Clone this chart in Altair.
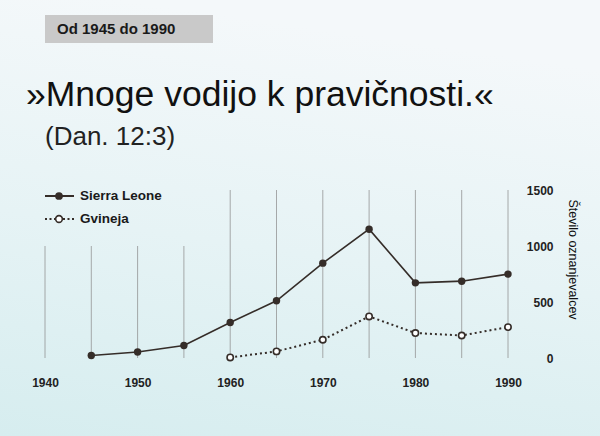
import altair as alt
import pandas as pd

# --- data -----------------------------------------------------------------
years_sl = [1945, 1950, 1955, 1960, 1965, 1970, 1975, 1980, 1985, 1990]
sierra_leone = [23, 53, 112, 317, 511, 847, 1150, 671, 686, 749]

years_gv = [1960, 1965, 1970, 1975, 1980, 1985, 1990]
gvineja = [5, 59, 163, 371, 223, 201, 276]

grid_years = [1940, 1945, 1950, 1955, 1960, 1965, 1970, 1975, 1980, 1985, 1990]
grid_tops = [1000, 1000, 1000, 1000, 1500, 1500, 1500, 1500, 1500, 1500, 1500]

x_ticks = [1940, 1950, 1960, 1970, 1980, 1990]
y_ticks = [0, 500, 1000, 1500]

header = "Od 1945 do 1990"
title = "»Mnoge vodijo k pravičnosti.«"
subtitle = "(Dan. 12:3)"
series_names = ["Sierra Leone", "Gvineja"]
y_title = "Število oznanjevalcev"

# --- styling ----------------------------------------------------------------
INK = "#352d29"
FONT = "Liberation Sans"

sl_df = pd.DataFrame({"leto": years_sl, "n": sierra_leone})
gv_df = pd.DataFrame({"leto": years_gv, "n": gvineja})
grid_df = pd.DataFrame({"leto": grid_years, "top": grid_tops, "bottom": [0] * len(grid_years)})
one = pd.DataFrame({"k": [0]})

x_scale = alt.Scale(domain=[1940, 1990], nice=False, zero=False)
y_scale = alt.Scale(domain=[0, 1500], nice=False)

x_axis = alt.Axis(values=x_ticks, format="d", grid=False, domain=False, ticks=False,
                  tickSize=0, labelPadding=19, labelFlush=False, labelFont=FONT,
                  labelFontSize=12, labelFontWeight="bold", labelColor="#222222",
                  title=None, zindex=2)
y_axis = alt.Axis(orient="right", values=y_ticks, format="d", grid=False, domain=False,
                  ticks=False, tickSize=0, labelAlign="right", labelBaseline="middle",
                  labelFlush=False, labelPadding=45, labelFont=FONT, labelFontSize=12,
                  labelFontWeight="bold", labelColor="#222222", title=y_title,
                  titleFont=FONT, titleFontSize=12.5, titleFontWeight="normal",
                  titleColor="#111111", titleAngle=90, titleAlign="center",
                  titleBaseline="middle", titleX=64, titleY=69, zindex=2)


def xy(yfield):
    return dict(
        x=alt.X("leto:Q", scale=x_scale, axis=x_axis),
        y=alt.Y(f"{yfield}:Q", scale=y_scale, axis=y_axis),
    )


# slide background with a soft vertical gradient
background = alt.Chart(one).mark_rect(
    color=alt.Gradient(
        gradient="linear",
        stops=[alt.GradientStop(color="#f4f8fa", offset=0),
               alt.GradientStop(color="#e6f3f5", offset=0.5),
               alt.GradientStop(color="#d6edef", offset=1)],
        x1=0.2, x2=0, y1=0, y2=1,
    )
).encode(x=alt.value(-45), x2=alt.value(555), y=alt.value(-190), y2=alt.value(246))

# header tag
tag_box = alt.Chart(one).mark_rect(color="#c9c9c9").encode(
    x=alt.value(0), x2=alt.value(168), y=alt.value(-175), y2=alt.value(-147))
tag_text = alt.Chart(one).mark_text(
    text=header, font=FONT, fontSize=15, fontWeight="bold", color="#1a1a1a",
    align="left", baseline="middle"
).encode(x=alt.value(12), y=alt.value(-161))

title_text = alt.Chart(one).mark_text(
    text=title, font=FONT, fontSize=35.5, color="#111111", align="left", baseline="alphabetic"
).encode(x=alt.value(-19), y=alt.value(-84))
subtitle_text = alt.Chart(one).mark_text(
    text=subtitle, font=FONT, fontSize=26, color="#222222", align="left", baseline="middle"
).encode(x=alt.value(0), y=alt.value(-53))

# vertical guide rules
grid = alt.Chart(grid_df).mark_rule(color="#8f8f8f", strokeWidth=1, opacity=0.75).encode(
    y2="bottom:Q", **xy("top"))

sl_line = alt.Chart(sl_df).mark_line(color=INK, strokeWidth=1.6).encode(**xy("n"))
sl_pts = alt.Chart(sl_df).mark_point(filled=True, color=INK, size=55, opacity=1).encode(**xy("n"))

gv_line = alt.Chart(gv_df).mark_line(color=INK, strokeWidth=2, strokeDash=[2, 3]).encode(**xy("n"))
gv_pts = alt.Chart(gv_df).mark_point(filled=True, fill="white", stroke=INK, strokeWidth=1.6,
                                     size=40, opacity=1).encode(**xy("n"))

# legend
leg_sl_line = alt.Chart(one).mark_rule(color=INK, strokeWidth=2).encode(
    x=alt.value(0), x2=alt.value(29), y=alt.value(6))
leg_sl_pt = alt.Chart(one).mark_point(filled=True, color=INK, size=60, opacity=1).encode(
    x=alt.value(14), y=alt.value(6))
leg_gv_line = alt.Chart(one).mark_rule(color=INK, strokeWidth=2, strokeDash=[2, 2.5]).encode(
    x=alt.value(0), x2=alt.value(29), y=alt.value(29))
leg_gv_pt = alt.Chart(one).mark_point(filled=True, fill="white", stroke=INK, strokeWidth=1.6,
                                      size=45, opacity=1).encode(
    x=alt.value(14), y=alt.value(29))
leg_sl_text = alt.Chart(one).mark_text(
    text=series_names[0], font=FONT, fontSize=13.5, fontWeight="bold", color="#1a1a1a",
    align="left", baseline="middle").encode(x=alt.value(35), y=alt.value(6))
leg_gv_text = alt.Chart(one).mark_text(
    text=series_names[1], font=FONT, fontSize=13.5, fontWeight="bold", color="#1a1a1a",
    align="left", baseline="middle").encode(x=alt.value(35), y=alt.value(29))

chart = alt.layer(
    background, tag_box, tag_text, title_text, subtitle_text,
    grid, sl_line, gv_line, sl_pts, gv_pts,
    leg_sl_line, leg_gv_line, leg_sl_pt, leg_gv_pt, leg_sl_text, leg_gv_text,
).properties(
    width=463, height=168,
    padding={"left": 45, "top": 190, "right": 92, "bottom": 78},
    autosize=alt.AutoSizeParams(type="none"),
    background="#e8f3f5",
).configure_view(stroke=None)

chart.save("out.html", embed_options={"renderer": "svg", "actions": False})
